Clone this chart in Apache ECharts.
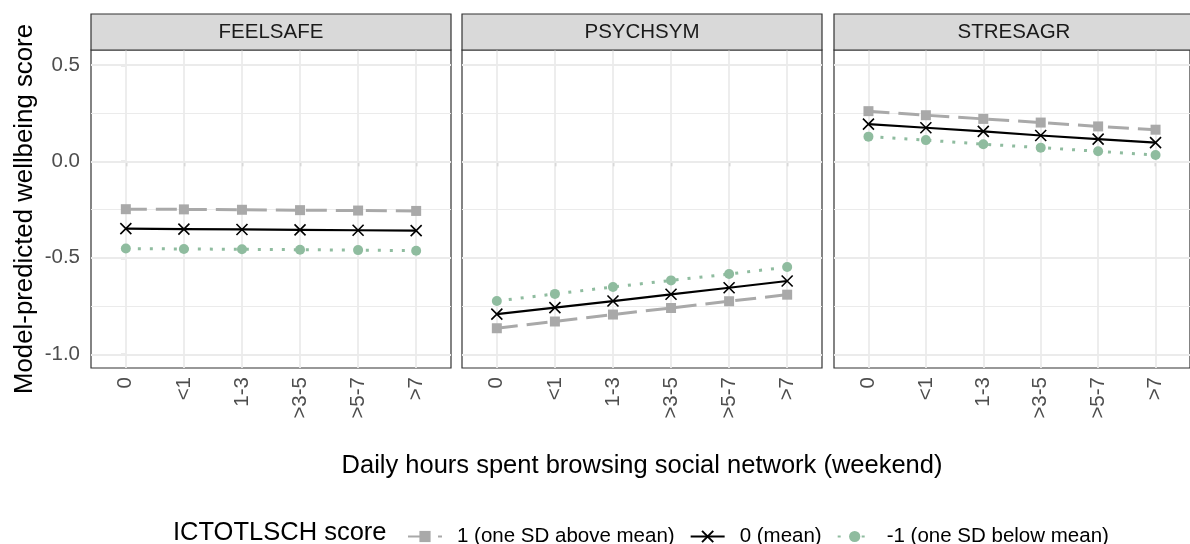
<!DOCTYPE html>
<html>
<head>
<meta charset="utf-8">
<script src="https://cdn.jsdelivr.net/npm/echarts@6/dist/echarts.min.js"></script>
<style>
  html, body { margin: 0; padding: 0; background: #fff; }
  #chart { width: 1190px; height: 544px; }
</style>
</head>
<body>
<div id="chart"></div>
<script>
// Categories of weekend social-network browsing time
const categories = ['0', '<1', '1-3', '>3-5', '>5-7', '>7'];
const panels = ['FEELSAFE', 'PSYCHSYM', 'STRESAGR'];
const groupNames = ['1 (one SD above mean)', '0 (mean)', '-1 (one SD below mean)'];
const yTicks = [-1.0, -0.5, 0.0, 0.5];
const yMinorLines = [-0.75, -0.25, 0.25];

// Predicted wellbeing, one array per outcome and ICT score level
const feelsafeAbove = [-0.248, -0.249, -0.251, -0.253, -0.255, -0.257];
const feelsafeMean  = [-0.349, -0.351, -0.353, -0.355, -0.357, -0.359];
const feelsafeBelow = [-0.452, -0.454, -0.456, -0.458, -0.460, -0.463];

const psychsymAbove = [-0.865, -0.830, -0.794, -0.760, -0.725, -0.691];
const psychsymMean  = [-0.792, -0.758, -0.724, -0.689, -0.655, -0.620];
const psychsymBelow = [-0.724, -0.687, -0.651, -0.617, -0.584, -0.548];

const stresagrAbove = [0.260, 0.239, 0.220, 0.201, 0.181, 0.164];
const stresagrMean  = [0.193, 0.174, 0.155, 0.134, 0.115, 0.097];
const stresagrBelow = [0.128, 0.110, 0.089, 0.071, 0.052, 0.033];

const panelData = [
  [feelsafeAbove, feelsafeMean, feelsafeBelow],
  [psychsymAbove, psychsymMean, psychsymBelow],
  [stresagrAbove, stresagrMean, stresagrBelow]
];

const FONT = '"Liberation Sans", Arial, sans-serif';
const SMALL = 20.5;
const BIG = 25.5;
const catIdx = categories.map((c, i) => i);

const gridLefts = [91, 462, 834];
const gridWidth = 360;
const gridTop = 50;
const gridHeight = 318;

const groupStyles = [
  { color: '#a9a9a9', line: { width: 3, type: [21, 9] }, symbol: 'rect', size: 10,
    item: { color: '#a9a9a9', borderWidth: 0, borderType: 'solid' } },
  { color: '#000000', line: { width: 2.2, type: 'solid' }, symbol: 'path://M0,0L10,10M0,10L10,0', size: 11,
    item: { color: '#000000', borderColor: '#000000', borderWidth: 1.6, borderType: 'solid' } },
  { color: '#8fbc9f', line: { width: 3, type: [3, 9] }, symbol: 'circle', size: 10,
    item: { color: '#8fbc9f', borderWidth: 0, borderType: 'solid' } }
];

const grids = [], xAxes = [], yAxes = [], series = [], graphics = [];

panels.forEach((p, pi) => {
  grids.push({
    left: gridLefts[pi], top: gridTop, width: gridWidth, height: gridHeight,
    show: true, borderColor: '#333333', borderWidth: 1.2, backgroundColor: '#ffffff', containLabel: false
  });
  xAxes.push({
    type: 'value', gridIndex: pi, min: -0.6, max: categories.length - 0.4,
    axisLine: { show: false },
    splitLine: { show: false },
    axisTick: { show: true, customValues: catIdx, length: 5, lineStyle: { color: '#333333', width: 1.2 } },
    axisLabel: {
      show: true, customValues: catIdx, rotate: 90, margin: 9,
      formatter: v => categories[Math.round(v)],
      color: '#4d4d4d', fontSize: SMALL, fontFamily: FONT
    }
  });
  yAxes.push({
    type: 'value', gridIndex: pi, min: -1.071, max: 0.577,
    axisLine: { show: false },
    splitLine: { show: false },
    axisTick: { show: pi === 0, customValues: yTicks, length: 5, lineStyle: { color: '#333333', width: 1.2 } },
    axisLabel: {
      show: pi === 0, customValues: yTicks, margin: 11,
      formatter: v => v.toFixed(1),
      color: '#4d4d4d', fontSize: SMALL, fontFamily: FONT
    },
    name: pi === 0 ? 'Model-predicted wellbeing score' : '',
    nameLocation: 'middle', nameGap: 53, nameRotate: 90,
    nameTextStyle: { color: '#000', fontSize: BIG + 0.3, fontFamily: FONT }
  });

  // background grid lines of the panel, kept beneath the data lines
  const gridLineData = [];
  yTicks.forEach(v => gridLineData.push({ yAxis: v, lineStyle: { color: '#ebebeb', width: 1.8, type: 'solid' } }));
  yMinorLines.forEach(v => gridLineData.push({ yAxis: v, lineStyle: { color: '#ebebeb', width: 1, type: 'solid' } }));
  catIdx.forEach(v => gridLineData.push({ xAxis: v, lineStyle: { color: '#ebebeb', width: 1.8, type: 'solid' } }));
  series.push({
    type: 'line', name: 'grid-' + p, xAxisIndex: pi, yAxisIndex: pi, data: [], z: 1, silent: true,
    markLine: { silent: true, z: 1, symbol: ['none', 'none'], label: { show: false }, animation: false, data: gridLineData }
  });

  groupNames.forEach((g, gi) => {
    const st = groupStyles[gi];
    series.push({
      type: 'line', name: g, xAxisIndex: pi, yAxisIndex: pi, z: 3 + gi,
      data: panelData[pi][gi].map((v, i) => [catIdx[i], v]),
      symbol: st.symbol, symbolSize: st.size, showSymbol: true, showAllSymbol: true,
      lineStyle: Object.assign({ color: st.color, cap: 'butt' }, st.line),
      itemStyle: st.item,
      emphasis: { disabled: true },
      animation: false
    });
  });

  // facet strip
  graphics.push({
    type: 'rect', shape: { x: gridLefts[pi], y: 14, width: gridWidth, height: 36 },
    style: { fill: '#d9d9d9', stroke: '#333333', lineWidth: 1.2 }, z: 10
  });
  graphics.push({
    type: 'text', x: gridLefts[pi] + gridWidth / 2, y: 32,
    style: { text: p, fill: '#1a1a1a', font: SMALL + 'px ' + FONT, textAlign: 'center', textVerticalAlign: 'middle' }, z: 11
  });
});

// shared x-axis title and legend title
graphics.push({
  type: 'text', x: 642, y: 466,
  style: { text: 'Daily hours spent browsing social network (weekend)', fill: '#000', font: BIG + 'px ' + FONT,
           textAlign: 'center', textVerticalAlign: 'middle' }
});
graphics.push({
  type: 'text', x: 173, y: 533,
  style: { text: 'ICTOTLSCH score', fill: '#000', font: BIG + 'px ' + FONT, textAlign: 'left', textVerticalAlign: 'middle' }
});

const chart = echarts.init(document.getElementById('chart'), null, { renderer: 'canvas' });
chart.setOption({
  backgroundColor: '#ffffff',
  animation: false,
  grid: grids,
  xAxis: xAxes,
  yAxis: yAxes,
  legend: {
    data: groupNames, left: 407, top: 526, orient: 'horizontal', padding: 0,
    itemWidth: 34, itemHeight: 14, itemGap: 15, selectedMode: false,
    textStyle: { color: '#000', fontSize: SMALL, fontFamily: FONT, padding: [0, 0, 0, 10] }
  },
  series: series,
  graphic: graphics
});
</script>
</body>
</html>
